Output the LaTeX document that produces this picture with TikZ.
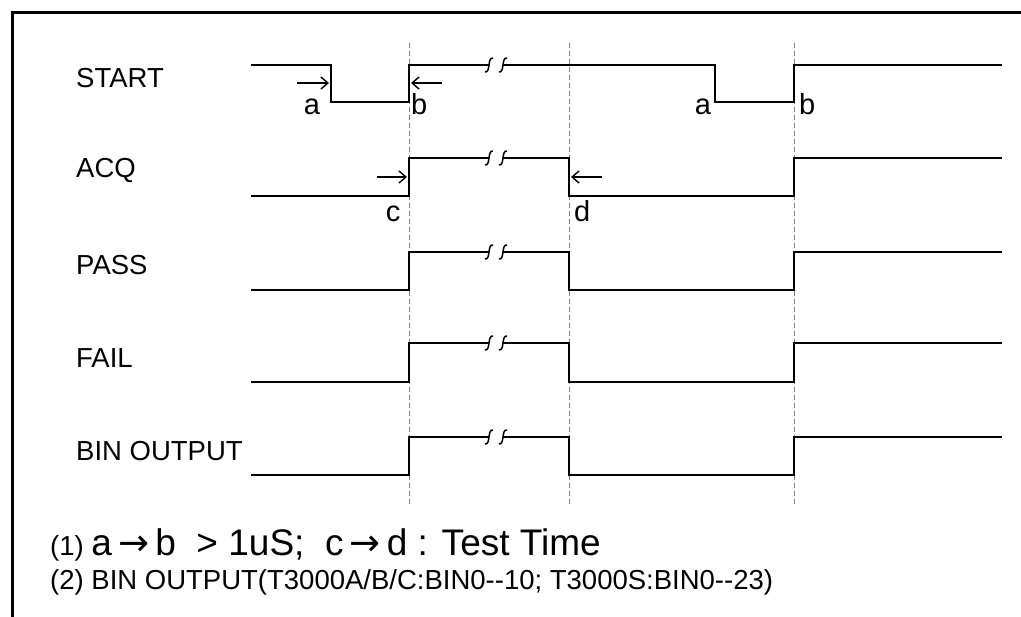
\documentclass[tikz,border=0pt]{standalone}
\usepackage{fontspec}
\setmainfont{Liberation Sans}
\newfontfamily\arrfont{DejaVu Sans}
\usetikzlibrary{arrows.meta}

% break mark on a signal line
\newcommand{\brk}[2]{%
  \draw[line width=1.5pt] (#1-4,#2+7) .. controls (#1+2,#2+8) and (#1-2,#2-8) .. (#1+4,#2-7);}
\newcommand{\ra}{\,{\arrfont →}\,}

\begin{document}
\begin{tikzpicture}[x=1pt, y=-1pt,
  sig/.style={line width=2.2pt, line join=miter},
  guide/.style={gray, line width=0.9pt, dash pattern=on 5pt off 3pt},
  timearr/.style={-{Straight Barb[length=7pt,width=12pt]}, line width=1.4pt},
  lab/.style={anchor=west, inner sep=0pt, font=\fontsize{27.5}{30}\selectfont},
  tick/.style={anchor=base, inner sep=0pt, font=\fontsize{29}{30}\selectfont},
  note/.style={anchor=base west, inner sep=0pt, font=\fontsize{27.5}{30}\selectfont}
]
\useasboundingbox (0,0) rectangle (1021,617);
\draw[line width=3pt] (12,617) -- (12,13) -- (1021,13);

% signal names
\node[lab] (start) at (76,78) {START};
\node[lab] (acq) at (76,171) {ACQ};
\node[lab] (pass) at (76,265) {PASS};
\node[lab] (fail) at (76,358) {FAIL};
\node[lab] (bin) at (76,451) {BIN OUTPUT};

% guides
\foreach \x in {409,569,794}
  \draw[guide] (\x,43) -- (\x,505);

% START
\draw[sig] (251,65) -- (331,65) -- (331,102) -- (409,102) -- (409,65) -- (489,65);
\draw[sig] (503,65) -- (715,65) -- (715,102) -- (794,102) -- (794,65) -- (1002,65);
\brk{489}{65} \brk{503}{65}

% ACQ, PASS, FAIL, BIN OUTPUT
\foreach \hi/\lo in {158/196, 252/290, 343/382, 437/475} {
  \draw[sig] (251,\lo) -- (409,\lo) -- (409,\hi) -- (489,\hi);
  \draw[sig] (503,\hi) -- (569,\hi) -- (569,\lo) -- (794,\lo) -- (794,\hi) -- (1002,\hi);
  \brk{489}{\hi} \brk{503}{\hi}
}

% timing marks
\node[tick] (a1) at (312,115) {a};
\node[tick, anchor=base west] (b1) at (411,115) {b};
\node[tick] (a2) at (703,115) {a};
\node[tick, anchor=base west] (b2) at (799,115) {b};
\node[tick] (c) at (393,222) {c};
\node[tick, anchor=base west] (d) at (574,222) {d};
\draw[timearr] (297,83) -- (329,83);
\draw[timearr] (442,83) -- (411,83);
\draw[timearr] (377,177) -- (407,177);
\draw[timearr] (602,177) -- (571,177);

% notes
\node[note] (n1) at (50,556) {(1) {\fontsize{37}{38}\selectfont a\ra b \ > 1uS;\ \ c\ra d : Test Time}};
\node[note] (n2) at (50,590) {(2) BIN OUTPUT(T3000A/B/C:BIN0-{}-10; T3000S:BIN0-{}-23)};
\end{tikzpicture}
\end{document}
